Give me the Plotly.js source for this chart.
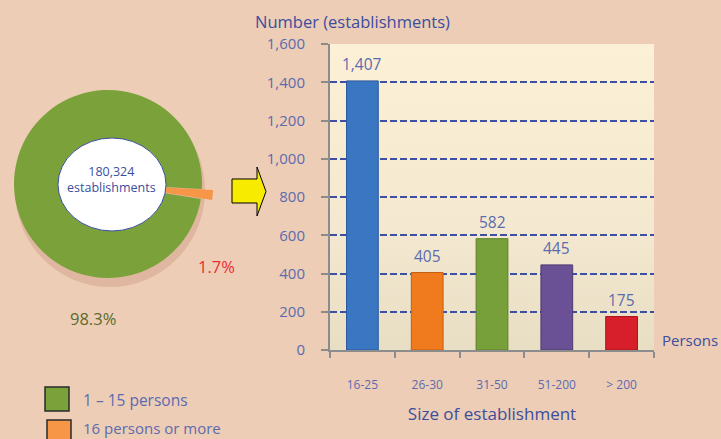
<!DOCTYPE html>
<html>
<head>
<meta charset="utf-8">
<script src="https://cdn.plot.ly/plotly-3.0.1.min.js"></script>
<style>html,body{margin:0;padding:0;background:#EDCDB6;}#chart{width:721px;height:439px;}</style>
</head>
<body>
<div id="chart"></div>
<script>
// ---- data ----
const categories = ['16-25', '26-30', '31-50', '51-200', '> 200'];
const counts = [1407, 405, 582, 445, 175];
const barColors = ['#3B76C2', '#F07A1E', '#78A03A', '#6A5094', '#D61F2A'];
const barEdges = ['#2A5A9C', '#C45E10', '#5C7F2A', '#4F3A73', '#A8141D'];
const pieLabels = ['16 persons or more', '1 – 15 persons'];
const pieShares = [1.7, 98.3];
const pieColors = ['#F79646', '#7BA23A'];
const pieTotal = '180,324';
const yTickVals = [0, 200, 400, 600, 800, 1000, 1200, 1400, 1600];

// ---- helpers for pixel -> paper ----
const W = 721, H = 439;
const px = x => x / W;
const py = y => (H - y) / H;

const FONT = 'Open Sans, Noto Sans, sans-serif';
const DARK = '#3B4E9E';
const LIGHT = '#5C6BAE';

const gradSvg = '<svg xmlns="http://www.w3.org/2000/svg" width="10" height="100" preserveAspectRatio="none">' +
  '<defs><linearGradient id="g" x1="0" y1="0" x2="0" y2="1">' +
  '<stop offset="0" stop-color="#FCF0D6"/><stop offset="0.6" stop-color="#F4E9D0"/><stop offset="1" stop-color="#E8DEC4"/>' +
  '</linearGradient></defs><rect width="10" height="100" fill="url(#g)"/></svg>';
const gradUri = 'data:image/svg+xml;base64,' + btoa(gradSvg);

const barTrace = {
  type: 'bar',
  x: categories,
  y: counts,
  width: 0.49,
  marker: { color: barColors, line: { width: 1, color: barEdges } },
  hoverinfo: 'skip',
  xaxis: 'x', yaxis: 'y'
};

const pieTrace = {
  type: 'pie',
  labels: pieLabels,
  values: pieShares,
  sort: false,
  direction: 'clockwise',
  rotation: 93,
  pull: [0.12, 0],
  marker: { colors: pieColors, line: { width: 0 } },
  textinfo: 'none',
  hoverinfo: 'skip',
  showlegend: false,
  domain: { x: [px(2.7), px(213.3)], y: [py(289.3), py(78.7)] }
};

// arrow path in pixels
const arrowPts = [[232,179],[257,179],[257,167],[266,191.5],[257,216],[257,203],[232,203]];
const arrowPath = 'M' + arrowPts.map(p => px(p[0]).toFixed(5) + ',' + py(p[1]).toFixed(5)).join(' L') + ' Z';

const barLabels = categories.map((c, i) => ({
  text: counts[i].toLocaleString('en-US'), xref: 'x', yref: 'y', x: c, y: counts[i],
  xanchor: 'center', yanchor: 'bottom', yshift: 4, showarrow: false,
  font: { family: FONT, size: 15.5, color: LIGHT }
}));

const layout = {
  width: W, height: H,
  margin: { l: 0, r: 0, t: 0, b: 0 },
  paper_bgcolor: '#EDCDB6',
  plot_bgcolor: 'rgba(0,0,0,0)',
  showlegend: false,
  font: { family: FONT, color: LIGHT },
  xaxis: {
    domain: [px(330), px(654)],
    type: 'category',
    tickson: 'boundaries',
    ticks: 'outside', ticklen: 6, tickwidth: 2, tickcolor: '#8C8C8C',
    showline: true, linecolor: '#8C8C8C', linewidth: 2,
    showgrid: false,
    tickfont: { family: FONT, size: 12, color: LIGHT },
    ticklabelstandoff: 23,
    title: { text: 'Size of establishment', font: { family: FONT, size: 17, color: DARK }, standoff: 16 },
    fixedrange: true
  },
  yaxis: {
    domain: [py(350), py(44)],
    range: [0, 1600],
    tickvals: yTickVals,
    tickformat: ',d',
    ticks: 'outside', ticklen: 7, tickwidth: 2, tickcolor: '#8C8C8C',
    showline: true, linecolor: '#8C8C8C', linewidth: 2,
    showgrid: true, gridcolor: '#3D50A4', gridwidth: 2, griddash: '7px,3px',
    zeroline: false,
    tickfont: { family: FONT, size: 15, color: LIGHT },
    ticklabelstandoff: 13,
    fixedrange: true
  },
  images: [{
    source: gradUri, xref: 'paper', yref: 'paper',
    x: px(330), y: py(44), sizex: px(654) - px(330), sizey: py(44) - py(350),
    xanchor: 'left', yanchor: 'top', sizing: 'stretch', layer: 'below'
  }],
  shapes: [
    // pie soft shadow
    { type: 'circle', xref: 'paper', yref: 'paper', layer: 'below',
      x0: px(15), x1: px(205), y0: py(287), y1: py(94),
      fillcolor: 'rgba(185,125,105,0.28)', line: { width: 0 } },
    // centre ellipse
    { type: 'circle', xref: 'paper', yref: 'paper',
      x0: px(58), x1: px(166), y0: py(231), y1: py(138),
      fillcolor: '#FFFFFF', line: { color: '#3B4E9E', width: 1 } },
    // arrow
    { type: 'path', xref: 'paper', yref: 'paper', path: arrowPath,
      fillcolor: '#F7EC00', line: { color: '#000000', width: 1 } },
    // legend squares
    { type: 'rect', xref: 'paper', yref: 'paper',
      x0: px(45), x1: px(69), y0: py(411), y1: py(387),
      fillcolor: pieColors[1], line: { color: '#2A2A2A', width: 1.5 } },
    { type: 'rect', xref: 'paper', yref: 'paper',
      x0: px(47), x1: px(71), y0: py(445), y1: py(420),
      fillcolor: pieColors[0], line: { color: '#2A2A2A', width: 1.5 } }
  ],
  annotations: barLabels.concat([
    { text: 'Number (establishments)', xref: 'paper', yref: 'paper',
      x: px(253), y: py(22), xanchor: 'left', yanchor: 'middle', showarrow: false,
      font: { family: FONT, size: 16.5, color: DARK } },
    { text: 'Persons', xref: 'paper', yref: 'paper',
      x: px(660), y: py(340), xanchor: 'left', yanchor: 'middle', showarrow: false,
      font: { family: FONT, size: 15, color: DARK } },
    { text: pieTotal + '<br>establishments', xref: 'paper', yref: 'paper',
      x: px(112), y: py(179), xanchor: 'center', yanchor: 'middle', showarrow: false,
      font: { family: FONT, size: 12.5, color: DARK } },
    { text: pieShares[0] + '%', xref: 'paper', yref: 'paper',
      x: px(217), y: py(266), xanchor: 'center', yanchor: 'middle', showarrow: false,
      font: { family: FONT, size: 16.5, color: '#EE2B2F' } },
    { text: pieShares[1] + '%', xref: 'paper', yref: 'paper',
      x: px(93), y: py(318), xanchor: 'center', yanchor: 'middle', showarrow: false,
      font: { family: FONT, size: 16.5, color: '#5A6B2E' } },
    { text: pieLabels[1], xref: 'paper', yref: 'paper',
      x: px(81), y: py(400), xanchor: 'left', yanchor: 'middle', showarrow: false,
      font: { family: FONT, size: 15.5, color: LIGHT } },
    { text: pieLabels[0], xref: 'paper', yref: 'paper',
      x: px(81), y: py(428), xanchor: 'left', yanchor: 'middle', showarrow: false,
      font: { family: FONT, size: 15, color: LIGHT } }
  ])
};

Plotly.newPlot('chart', [pieTrace, barTrace], layout, { staticPlot: true, displayModeBar: false });
</script>
</body>
</html>
